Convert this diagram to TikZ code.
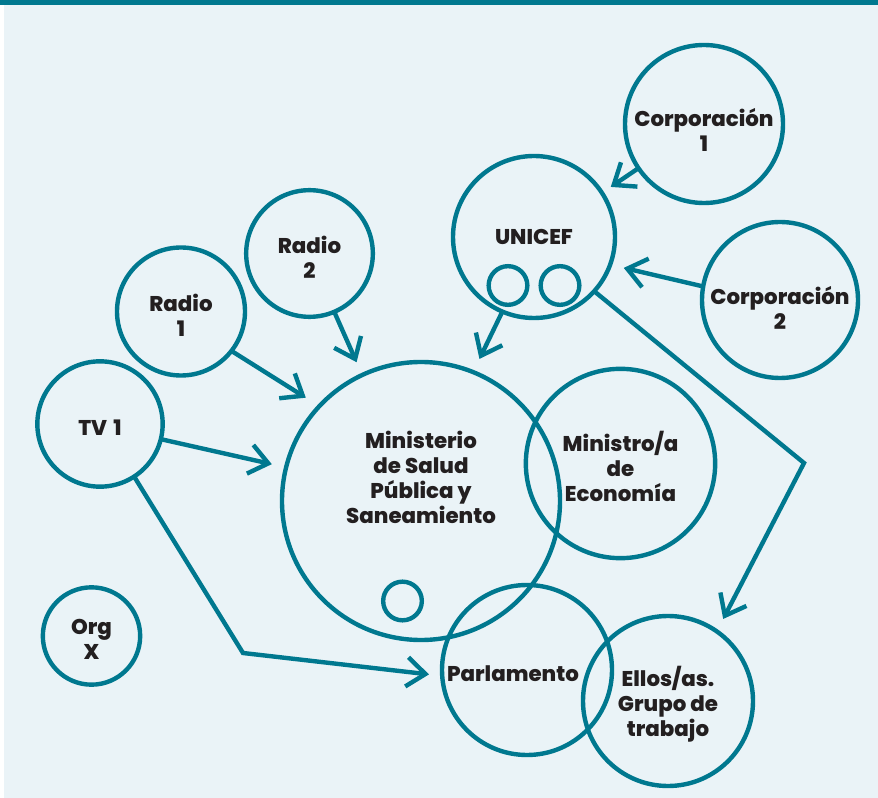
\documentclass[tikz,border=0pt]{standalone}
\usepackage{fontspec}
\setmainfont{Poppins}[BoldFont={Poppins ExtraBold}]
\usepackage{xcolor}
\definecolor{mapteal}{RGB}{0,120,143}
\definecolor{mapbg}{RGB}{234,243,247}
\definecolor{mapink}{RGB}{35,31,32}
\usetikzlibrary{arrows.meta}

\begin{document}
\begin{tikzpicture}[x=0.75pt, y=-0.75pt,
  actor/.style={circle, draw=mapteal, line width=3.3pt, inner sep=0pt, outer sep=0pt},
  lbl/.style={align=center, text=mapink, yshift=-2.5pt,
              font=\fontsize{16pt}{18.75pt}\selectfont\bfseries},
  dot/.style={circle, draw=mapteal, line width=3.3pt, inner sep=0pt, outer sep=0pt, minimum size=29pt},
  arr/.style={-{Straight Barb[length=14pt, width=22pt]}, line width=3.3pt, mapteal}
]
\useasboundingbox (0,0) rectangle (878,798);
\fill[white] (0,0) rectangle (878,798);
\fill[mapbg] (4,5) rectangle (878,798);
\fill[mapteal] (0,0) rectangle (878,5);

\node[actor, minimum size=118.5pt, label={[lbl, yshift=-2pt]center:Corporación\\1}] (corpone) at (704,124) {};
\node[actor, minimum size=121.5pt, label={[lbl, yshift=2.5pt]center:UNICEF}] (unicef) at (534,237) {};
\node[actor, minimum size=117pt, label={[lbl, yshift=-3.5pt]center:Corporación\\2}] (corptwo) at (780,300) {};
\node[actor, minimum size=95pt, label={[lbl]center:Radio\\2}] (radiotwo) at (309.5,253.5) {};
\node[actor, minimum size=96pt, label={[lbl]center:Radio\\1}] (radioone) at (181,311.5) {};
\node[actor, minimum size=94pt, label={[lbl]center:TV\hspace{0.3em}1}] (tvone) at (100,424) {};
\node[actor, minimum size=73pt, label={[lbl]center:Org\\X}] (orgx) at (91.5,636) {};
\node[actor, minimum size=208.5pt,
      label={[lbl, yshift=20.5pt]center:Ministerio\\de Salud\\Pública y\\Saneamiento}] (minsalud) at (421,501) {};
\node[actor, minimum size=142pt, label={[lbl]center:Ministro/a\\de\\Economía}] (mineco) at (620.5,463.5) {};
\node[actor, minimum size=127.5pt, label={[lbl, xshift=-10.5pt]center:Parlamento}] (parl) at (527,670) {};
\node[actor, minimum size=127.5pt, label={[lbl]center:Ellos/as.\\Grupo de\\trabajo}] (ellos) at (668,701) {};

\node[dot] (unicefa) at (508,285.5) {};
\node[dot] (unicefb) at (560,285.5) {};
\node[dot] (minsub) at (402.5,601) {};

\coordinate (tvbend) at (243,653);
\coordinate (unibend) at (804,463);

\draw[arr, shorten >=8pt] (corpone.-146) -- (unicef.33);
\draw[arr, shorten >=10.5pt] (corptwo.170) -- (unicef.-20);
\draw[arr, shorten >=11pt] (unicef.-113) -- (minsalud.68);
\draw[arr, shorten >=10.5pt] (radiotwo.-67) -- (minsalud.115);
\draw[arr, shorten >=12pt] (radioone.-38) -- (minsalud.137);
\draw[arr, shorten >=11pt] (tvone.-14) -- (minsalud.166);
\draw[arr, shorten >=10pt] (tvone.-57) -- (tvbend) -- (parl.184);
\draw[arr, shorten >=10.5pt] (unicef.-42) -- (unibend) -- (ellos.55);
\end{tikzpicture}
\end{document}
